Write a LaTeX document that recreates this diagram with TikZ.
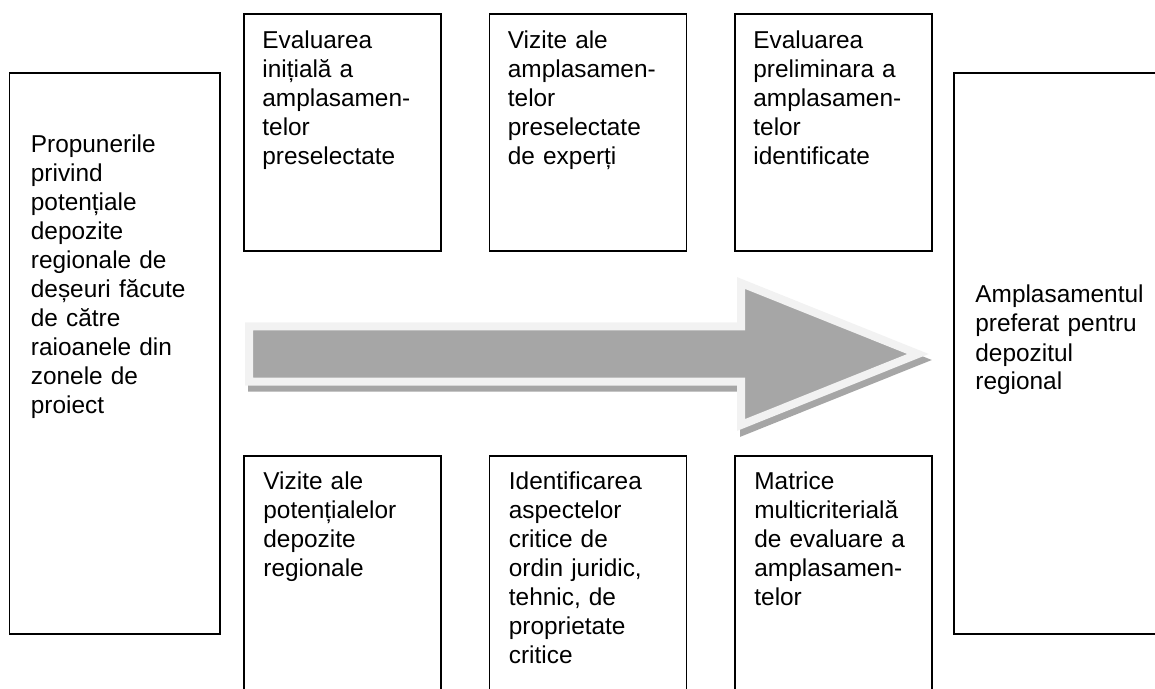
\documentclass[tikz,border=0pt]{standalone}
\usepackage{fontspec}
\setmainfont{Liberation Sans}
\usetikzlibrary{positioning}

\definecolor{arrowfill}{HTML}{A6A6A6}
\definecolor{arrowline}{HTML}{F2F2F2}

\tikzset{
  stage/.style={draw, line width=0.75pt, inner sep=0pt, outer sep=0pt, minimum width=98.5pt},
  lbl/.style={anchor=base west, align=left, inner sep=0pt, text width=95pt,
    font=\fontsize{12.2}{14.5}\selectfont},
}

\begin{document}
\begin{tikzpicture}[x=0.5pt, y=-0.5pt]
\useasboundingbox (0,0) rectangle (1155,689);
\clip (0,0) rectangle (1155,689);

% big arrow (shadow first)
\filldraw[arrowfill, line width=4pt, shift={(3,6)}]
  (249,326.5) -- (741,326.5) -- (741,283) -- (918,354) -- (741,425) -- (741,381.5) -- (249,381.5) -- cycle;
\filldraw[fill=arrowfill, draw=arrowline, line width=4pt]
  (249,326.5) -- (741,326.5) -- (741,283) -- (918,354) -- (741,425) -- (741,381.5) -- (249,381.5) -- cycle;

% left and right columns
\node[stage, minimum width=105.25pt, minimum height=280.5pt] (prop) at (114.75,353.5) {};
\node[stage, minimum width=105.5pt, minimum height=280.5pt] (pref) at (1059.5,353.5) {};

% top row
\node[stage, minimum height=118.5pt] (evalinit) at (342.5,132.5) {};
\node[stage, minimum height=118.5pt, right=24.25pt of evalinit] (vizexp) {};
\node[stage, minimum height=118.5pt, right=24.25pt of vizexp] (evalprel) {};

% bottom row
\node[stage, minimum height=152pt, below=102.5pt of evalinit] (vizpot) {};
\node[stage, minimum height=152pt, below=102.5pt of vizexp] (ident) {};
\node[stage, minimum height=152pt, below=102.5pt of evalprel] (matrice) {};

% texts
\node[lbl] (propt) at ([shift={(10.5pt,-40pt)}]prop.north west)
  {Propunerile\\privind\\potențiale\\depozite\\regionale de\\deșeuri făcute\\de către\\raioanele din\\zonele de\\proiect};
\node[lbl] (preft) at ([shift={(10.5pt,-115pt)}]pref.north west)
  {Amplasamentul\\preferat pentru\\depozitul\\regional};
\node[lbl] (evalinitt) at ([shift={(9pt,-17.5pt)}]evalinit.north west)
  {Evaluarea\\inițială a\\amplasamen-\\telor\\preselectate};
\node[lbl] (vizexpt) at ([shift={(9pt,-17.5pt)}]vizexp.north west)
  {Vizite ale\\amplasamen-\\telor\\preselectate\\de experți};
\node[lbl] (evalprelt) at ([shift={(9pt,-17.5pt)}]evalprel.north west)
  {Evaluarea\\preliminara a\\amplasamen-\\telor\\identificate};
\node[lbl] (vizpott) at ([shift={(9.5pt,-16.5pt)}]vizpot.north west)
  {Vizite ale\\potențialelor\\depozite\\regionale};
\node[lbl] (identt) at ([shift={(9.5pt,-16.5pt)}]ident.north west)
  {Identificarea\\aspectelor\\critice de\\ordin juridic,\\tehnic, de\\proprietate\\critice};
\node[lbl] (matricet) at ([shift={(9.5pt,-16.5pt)}]matrice.north west)
  {Matrice\\multicriterială\\de evaluare a\\amplasamen-\\telor};
\end{tikzpicture}
\end{document}
